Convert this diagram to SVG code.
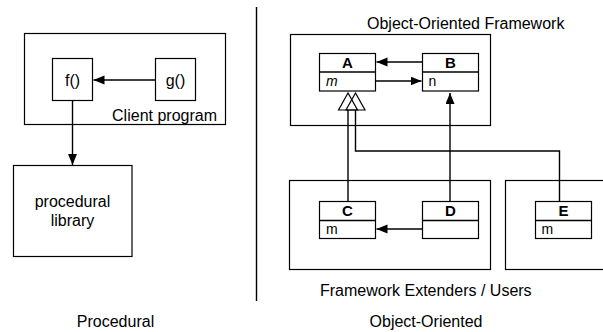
<svg xmlns="http://www.w3.org/2000/svg" width="603" height="332" viewBox="0 0 603 332">
<style>
.box{fill:#fff;stroke:#000;stroke-width:1.2}
.ln{fill:none;stroke:#000;stroke-width:1.4}
.t{font-family:"Liberation Sans",Arial,sans-serif;font-size:16px;fill:#000}
.c{text-anchor:middle}
.cls{font-family:"Liberation Sans",Arial,sans-serif;font-size:15px;font-weight:bold;text-anchor:middle;fill:#000}
.at{font-family:"Liberation Sans",Arial,sans-serif;font-size:14px;fill:#000}
.tri{fill:none;stroke:#000;stroke-width:1.2}
</style>
<defs>
<marker id="arr" markerUnits="userSpaceOnUse" markerWidth="12" markerHeight="10" refX="11" refY="4.5" orient="auto">
<path d="M0,0 L11,4.5 L0,9 z" fill="#000"/>
</marker>
</defs>
<rect width="603" height="332" fill="#fff"/>
<line x1="256.5" y1="7" x2="256.5" y2="301" stroke="#000" stroke-width="1.4"/>
<g id="client">
<rect class="box" x="24.5" y="33.5" width="201" height="91"/>
<text class="t" x="217" y="121" text-anchor="end">Client program</text>
</g>
<g id="f">
<rect class="box" x="52.5" y="58.5" width="40" height="42"/>
<text class="t c" x="72.5" y="86">f()</text>
</g>
<g id="g">
<rect class="box" x="155.5" y="58.5" width="40" height="42"/>
<text class="t c" x="175.5" y="86">g()</text>
</g>
<g id="library">
<rect class="box" x="13.5" y="165.5" width="118.5" height="91"/>
<text class="t c" x="72.5" y="207">procedural</text>
<text class="t c" x="72.5" y="226">library</text>
</g>
<g id="framework">
<rect class="box" x="290.5" y="34.5" width="200" height="91"/>
<text class="t" x="367" y="29">Object-Oriented Framework</text>
</g>
<g id="extenders">
<rect class="box" x="289.5" y="180.5" width="201" height="89"/>
<text class="t" x="320" y="296">Framework Extenders / Users</text>
</g>
<g id="users2">
<rect class="box" x="505.5" y="180.5" width="110" height="89"/>
</g>
<g id="A">
<rect class="box" x="319.5" y="53.5" width="56" height="37.5"/>
<line class="ln" x1="319.5" y1="72" x2="375.5" y2="72" stroke-width="1.2"/>
<text class="cls" x="347.5" y="67.5">A</text>
<text class="at" x="326" y="86" font-style="italic">m</text>
</g>
<g id="B">
<rect class="box" x="422.5" y="53.5" width="56" height="37.5"/>
<line class="ln" x1="422.5" y1="72" x2="478.5" y2="72" stroke-width="1.2"/>
<text class="cls" x="450.5" y="67.5">B</text>
<text class="at" x="428.5" y="86">n</text>
</g>
<g id="C">
<rect class="box" x="319.5" y="201.5" width="56" height="37"/>
<line class="ln" x1="319.5" y1="220.5" x2="375.5" y2="220.5" stroke-width="1.2"/>
<text class="cls" x="347.5" y="215.5">C</text>
<text class="at" x="326" y="234">m</text>
</g>
<g id="D">
<rect class="box" x="422.5" y="201.5" width="56" height="37"/>
<line class="ln" x1="422.5" y1="220.5" x2="478.5" y2="220.5" stroke-width="1.2"/>
<text class="cls" x="450.5" y="215.5">D</text>
</g>
<g id="E">
<rect class="box" x="535.5" y="201.5" width="56" height="37"/>
<line class="ln" x1="535.5" y1="220.5" x2="591.5" y2="220.5" stroke-width="1.2"/>
<text class="cls" x="563.5" y="215.5">E</text>
<text class="at" x="541.5" y="234">m</text>
</g>
<g id="connectors">
<line class="ln" x1="155.5" y1="80" x2="93.5" y2="80" marker-end="url(#arr)"/>
<line class="ln" x1="72.5" y1="100.5" x2="72.5" y2="165" marker-end="url(#arr)"/>
<line class="ln" x1="422.5" y1="62" x2="376.5" y2="62" marker-end="url(#arr)"/>
<line class="ln" x1="375.5" y1="81" x2="421.5" y2="81" marker-end="url(#arr)"/>
<line class="ln" x1="422.5" y1="229" x2="376.5" y2="229" marker-end="url(#arr)"/>
<line class="ln" x1="450" y1="201.5" x2="450" y2="93" marker-end="url(#arr)"/>
<line class="ln" x1="348" y1="201.5" x2="348" y2="110"/>
<polyline class="ln" points="559.5,201.5 559.5,151 355.5,151 355.5,110"/>
<polygon class="tri" points="348,93 338.5,110 357.5,110"/>
<polygon class="tri" points="355.5,93 346,110 365,110"/>
</g>
<text class="t c" x="115.5" y="327">Procedural</text>
<text class="t c" x="426" y="327">Object-Oriented</text>
</svg>
